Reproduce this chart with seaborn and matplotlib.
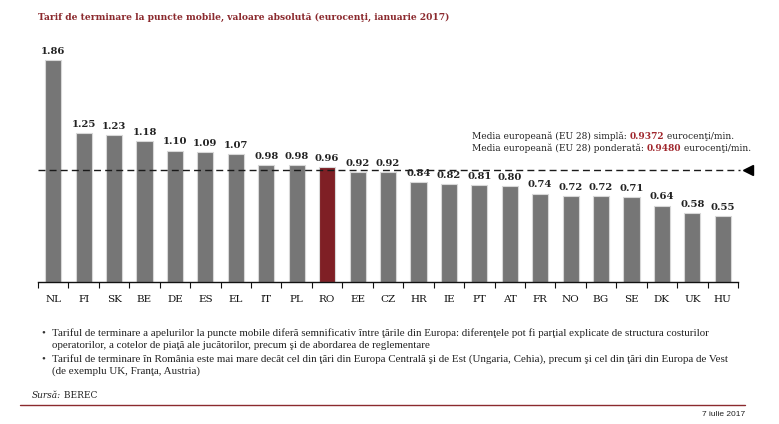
import matplotlib
matplotlib.use('Agg')
import matplotlib.pyplot as plt
from matplotlib.lines import Line2D
import numpy as np
import pandas as pd
import seaborn as sns

# Chart data
countries = ['NL', 'FI', 'SK', 'BE', 'DE', 'ES', 'EL', 'IT', 'PL', 'RO', 'EE', 'CZ',
             'HR', 'IE', 'PT', 'AT', 'FR', 'NO', 'BG', 'SE', 'DK', 'UK', 'HU']
values = [1.86, 1.25, 1.23, 1.18, 1.10, 1.09, 1.07, 0.98, 0.98, 0.96, 0.92, 0.92,
          0.84, 0.82, 0.81, 0.80, 0.74, 0.72, 0.72, 0.71, 0.64, 0.58, 0.55]
highlight = 'RO'
eu_simple = 0.9372
eu_weighted = 0.9480

title = 'Tarif de terminare la puncte mobile, valoare absolută (eurocenţi, ianuarie 2017)'
bullets = [
    ['Tariful de terminare a apelurilor la puncte mobile diferă semnificativ între ţările din Europa: diferenţele pot fi parţial explicate de structura costurilor',
     'operatorilor, a cotelor de piaţă ale jucătorilor, precum şi de abordarea de reglementare'],
    ['Tariful de terminare în România este mai mare decât cel din ţări din Europa Centrală şi de Est (Ungaria, Cehia), precum şi cel din ţări din Europa de Vest',
     '(de exemplu UK, Franţa, Austria)'],
]

DARK_RED = '#8b2a2e'
NUM_RED = '#a0262c'
GREY = '#767676'

sns.set_theme(style='white')
plt.rcParams['font.family'] = ['DejaVu Serif']

W, H = 779, 424
fig = plt.figure(figsize=(W / 100, H / 100), dpi=100)
ax = fig.add_axes([38 / W, (H - 282) / H, 700 / W, 238.8 / H])

df = pd.DataFrame({'country': countries, 'value': values})
palette = {c: ('#7f1f25' if c == highlight else GREY) for c in countries}
sns.barplot(data=df, x='country', y='value', hue='country', palette=palette,
            saturation=1, width=0.53, edgecolor='#d8d8d8', linewidth=0.8,
            legend=False, ax=ax)

for cont in ax.containers:
    ax.bar_label(cont, fmt='%.2f', padding=3, fontsize=7.2, fontweight='bold', color='#222222')

n = len(countries)
ax.set_xlim(-0.5, n - 0.5)
ax.set_ylim(0, 2.0)
ax.set_yticks([])
ax.set_xlabel('')
ax.set_ylabel('')
for s in ['left', 'right', 'top']:
    ax.spines[s].set_visible(False)
ax.spines['bottom'].set_color('#111111')
ax.spines['bottom'].set_linewidth(1.0)
ax.set_xticks(np.arange(-0.5, n), minor=True)
ax.tick_params(axis='x', which='major', length=0, pad=9, labelsize=7.5, labelcolor='#111111')
ax.tick_params(axis='x', which='minor', length=4, width=0.8, color='#111111', direction='out', bottom=True)

# EU average dashed line with arrow
ax.plot([-0.5, 22.57], [eu_simple, eu_simple], ls=(0, (5, 3)), color='#1a1a1a', lw=1, clip_on=False)
ax.plot([22.82], [eu_simple], marker='<', markersize=7.5, color='black', clip_on=False)

renderer = fig.canvas.get_renderer()


def rich_line(x, y, parts, size):
    for s, color, weight, style in parts:
        t = fig.text(x, y, s, color=color, fontweight=weight, fontstyle=style,
                     fontsize=size, va='baseline', ha='left')
        bb = t.get_window_extent(renderer=renderer)
        x = fig.transFigure.inverted().transform((bb.x1, bb.y0))[0]


rich_line(472 / W, 1 - 139 / H,
          [('Media europeană (EU 28) simplă: ', '#222222', 'normal', 'normal'),
           ('%.4f' % eu_simple, NUM_RED, 'bold', 'normal'),
           (' eurocenţi/min.', '#222222', 'normal', 'normal')], 6.5)
rich_line(472 / W, 1 - 151 / H,
          [('Media europeană (EU 28) ponderată: ', '#222222', 'normal', 'normal'),
           ('%.4f' % eu_weighted, NUM_RED, 'bold', 'normal'),
           (' eurocenţi/min.', '#222222', 'normal', 'normal')], 6.5)

fig.text(38 / W, 1 - 17 / H, title, color=DARK_RED, fontweight='bold', fontsize=6.6,
         va='center', ha='left')

# bullet notes
ys = [[333, 345], [359, 371]]
for lines, yy in zip(bullets, ys):
    fig.text(41 / W, 1 - yy[0] / H, '•', fontsize=8, va='center', color='#333333',
             family='Liberation Serif')
    for line, y in zip(lines, yy):
        fig.text(52 / W, 1 - y / H, line, fontsize=7.9, va='center', color='#222222',
                 family='Liberation Serif')

rich_line(32 / W, 1 - 398 / H,
          [('Sursă:', '#222222', 'normal', 'italic'),
           (' BEREC', '#222222', 'normal', 'normal')], 6.5)

fig.add_artist(Line2D([20 / W, 745 / W], [1 - 404.5 / H] * 2, color=DARK_RED, lw=1))
fig.text(745 / W, 1 - 414 / H, '7 iulie 2017', ha='right', va='center', fontsize=6,
         family='Liberation Sans', color='#222222')

fig.savefig('out.png', dpi=100)
